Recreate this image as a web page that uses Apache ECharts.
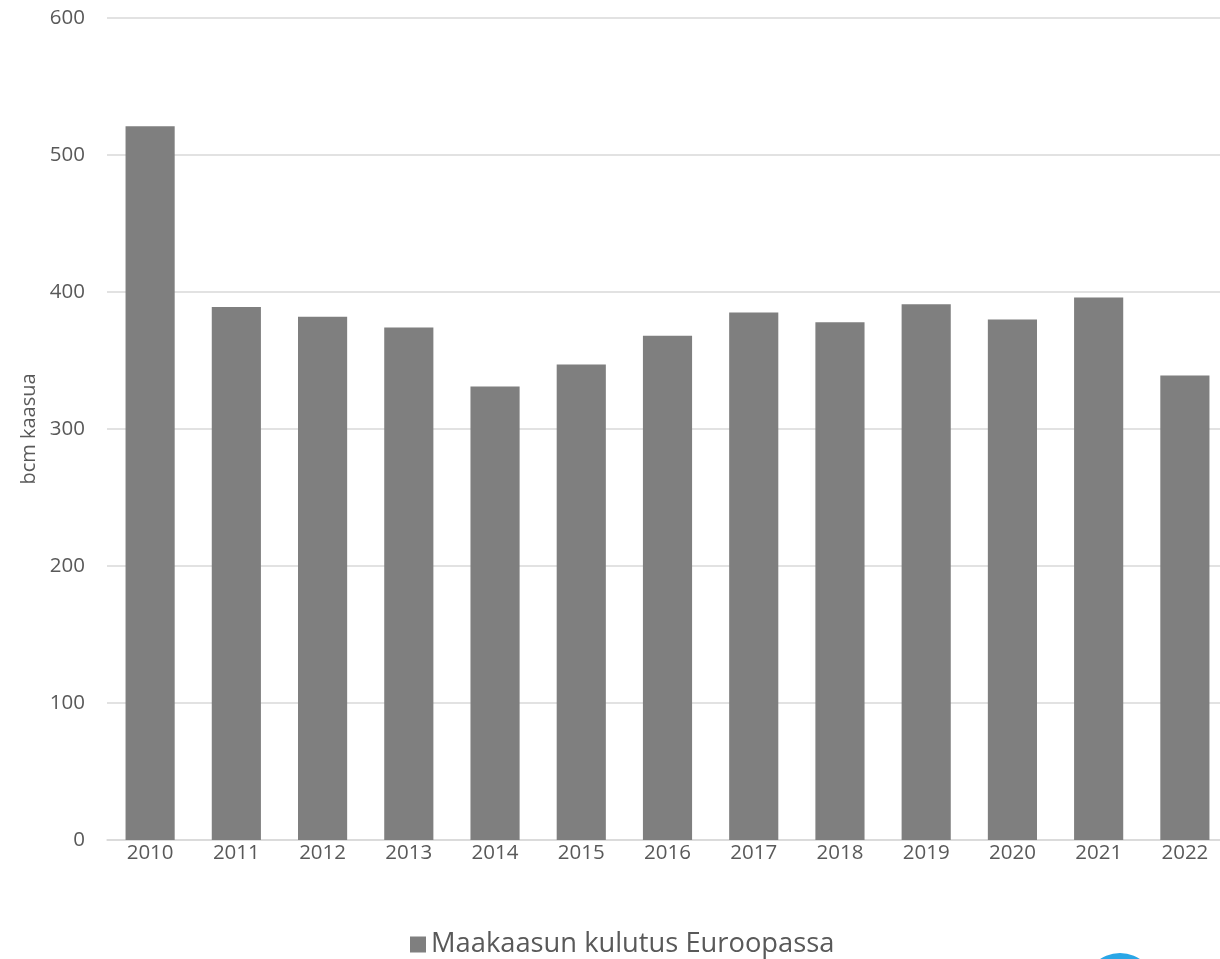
<!DOCTYPE html>
<html><head><meta charset="utf-8">
<script src="https://cdn.jsdelivr.net/npm/echarts@6/dist/echarts.min.js"></script>
<style>html,body{margin:0;padding:0;background:#fff}#c{width:1220px;height:959px}</style>
</head><body><div id="c"></div>
<script>
const years = ['2010','2011','2012','2013','2014','2015','2016','2017','2018','2019','2020','2021','2022'];
const consumption = [521, 389, 382, 374, 331, 347, 368, 385, 378, 391, 380, 396, 339];
const seriesName = 'Maakaasun kulutus Euroopassa';
const yAxisName = 'bcm kaasua';

const chart = echarts.init(document.getElementById('c'), null, {renderer:'canvas'});
const font = 'Open Sans';
chart.setOption({
  animation:false,
  backgroundColor:'#fff',
  grid:{left:107, width:1121, top:18, height:822, containLabel:false, outerBoundsMode:'none'},
  legend:{
    data:[seriesName], top:926, left:405,
    itemWidth:16, itemHeight:16, itemGap:8,
    icon:'rect',
    textStyle:{fontFamily:font, fontSize:27.3, color:'#595959'}
  },
  xAxis:{
    type:'category', data:years,
    axisLine:{lineStyle:{color:'#d9d9d9', width:1.5}},
    axisTick:{show:false},
    axisLabel:{fontFamily:font, fontSize:20.5, color:'#595959', margin:3}
  },
  yAxis:{
    type:'value', min:0, max:600, interval:100,
    name:yAxisName, nameLocation:'middle', nameGap:63, nameRotate:90,
    nameTextStyle:{fontFamily:font, fontSize:20, color:'#595959'},
    axisLine:{show:false}, axisTick:{show:false},
    axisLabel:{fontFamily:font, fontSize:20.5, color:'#595959', margin:22},
    splitLine:{lineStyle:{color:'#d9d9d9', width:1.5}}
  },
  series:[{
    name:seriesName, type:'bar', data:consumption,
    barCategoryGap:'43%',
    itemStyle:{color:'#7f7f7f'}
  }],
  graphic:[{
    type:'circle', shape:{cx:1120, cy:989, r:36}, style:{fill:'#2aa6e6'}, silent:true
  }]
});
</script></body></html>
